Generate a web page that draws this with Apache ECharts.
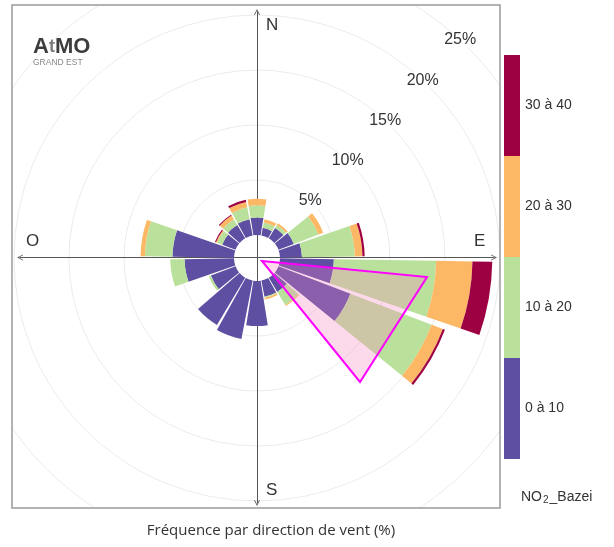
<!DOCTYPE html>
<html>
<head>
<meta charset="utf-8">
<script src="https://cdn.jsdelivr.net/npm/echarts@6/dist/echarts.min.js"></script>
<style>
  html, body { margin: 0; padding: 0; background: #fff; }
  #rose { width: 614px; height: 547px; }
</style>
</head>
<body>
<div id="rose"></div>
<script>
// directions du vent (degrés, 0 = Nord), pas de 20°
var directions = ['0', '20', '40', '60', '80', '100', '120', '140', '160',
                  '180', '200', '220', '240', '260', '280', '300', '320', '340'];

// fréquence (%) par classe de NO2
var no2_0_10  = [1.6, 0.7, 1.1, 1.5, 2.0, 4.9, 7.0, 1.5, 1.5, 4.1, 5.4, 5.0, 2.4, 4.5, 5.6, 1.3, 1.4, 1.5];
var no2_10_20 = [1.1, 0.5, 0.3, 2.4, 4.8, 9.3, 7.9, 1.4, 0.1, 0,   0,   0,   0.2, 1.3, 2.5, 0.5, 0.6, 1.1];
var no2_20_30 = [0.6, 0.3, 0.2, 0.45, 0.7, 3.3, 1.1, 0.1, 0.15, 0,  0,   0,   0,   0,   0.4, 0.1, 0.4, 0.5];
var no2_30_40 = [0,   0,   0,   0,   0.2, 1.8, 0.2, 0,   0,   0,   0,   0,   0,   0,   0,   0.1, 0.1, 0.2];

var classes = ['0 à 10', '10 à 20', '20 à 30', '30 à 40'];
var colors = ['#5E4FA2', '#BAE19B', '#FDB865', '#9E0142'];

// graduations radiales
var ringMax = 30;
var ringStep = 5;

var myChart = echarts.init(document.getElementById('rose'));

function serie(name, values, color) {
    return {
        name: name,
        type: 'bar',
        coordinateSystem: 'polar',
        polarIndex: 0,
        stack: 'rose',
        barCategoryGap: '9%',
        itemStyle: { color: color },
        data: values
    };
}

var font = 'Liberation Sans, Arial, sans-serif';
// flèche ouverte pour les axes cardinaux
var openArrow = 'path://M0,10 L5,0 L10,10 L8.6,10 L5,2.8 L1.4,10 Z';
var ringColor = '#ebebeb';

var option = {
    animation: false,
    color: colors,
    title: [
        {
            text: 'Fréquence par direction de vent (%)',
            left: 266,
            textAlign: 'center',
            top: 518,
            zlevel: 2,
            textStyle: { fontFamily: 'Open Sans', fontSize: 15, fontWeight: 'normal', color: '#333' }
        },
        {
            text: '{a|NO}{b|2}{a|_Bazei}',
            left: 516,
            top: 484,
            zlevel: 2,
            textStyle: {
                fontWeight: 'normal',
                rich: {
                    a: { fontFamily: font, fontSize: 14, fontWeight: 'normal', color: '#333' },
                    b: { fontFamily: font, fontSize: 10, fontWeight: 'normal', color: '#333', padding: [6, 1, 0, 1] }
                }
            }
        }
    ],
    legend: {
        data: classes.slice().reverse(),
        orient: 'vertical',
        left: 504,
        top: 55,
        padding: 0,
        icon: 'rect',
        itemWidth: 16,
        itemHeight: 101,
        itemGap: 0,
        selectedMode: false,
        zlevel: 2,
        textStyle: { fontFamily: font, fontSize: 14, color: '#333' }
    },
    polar: [
        { center: [257, 258], radius: [23, 353] },
        { center: [257, 258], radius: [23, 353] }
    ],
    angleAxis: [
        {
            polarIndex: 0,
            type: 'category',
            data: directions,
            startAngle: 100,
            axisLine: { show: false },
            axisTick: { show: false },
            axisLabel: { show: false },
            splitLine: { show: false }
        },
        {
            // sert uniquement à orienter les étiquettes des cercles
            polarIndex: 1,
            type: 'value',
            startAngle: 47,
            min: 0,
            max: 360,
            show: false
        }
    ],
    radiusAxis: [
        {
            polarIndex: 0,
            min: 0,
            max: ringMax,
            interval: ringStep,
            axisLine: { show: false },
            axisTick: { show: false },
            axisLabel: { show: false },
            splitLine: {
                show: true,
                lineStyle: { color: ['rgba(0,0,0,0)', ringColor, ringColor, ringColor, ringColor, ringColor, ringColor], width: 1 }
            }
        },
        {
            polarIndex: 1,
            min: 0,
            max: ringMax,
            interval: ringStep,
            axisLine: { show: false },
            axisTick: { show: false },
            splitLine: { show: false },
            axisLabel: {
                formatter: '{value}%',
                showMinLabel: false,
                margin: 0,
                align: 'center',
                verticalAlign: 'middle',
                fontFamily: font,
                fontSize: 16,
                color: '#333',
                backgroundColor: '#fff'
            }
        }
    ],
    // axes N-S / O-E
    grid: { left: 20, right: 120, top: 12, bottom: 44, show: false },
    xAxis: {
        type: 'value', min: -1, max: 1,
        axisLine: { show: true, onZero: true, symbol: [openArrow, openArrow], symbolSize: [8, 6], lineStyle: { color: '#555', width: 1 } },
        axisTick: { show: false }, axisLabel: { show: false }, splitLine: { show: false }
    },
    yAxis: {
        type: 'value', min: -1, max: 1,
        axisLine: { show: true, onZero: true, symbol: [openArrow, openArrow], symbolSize: [8, 6], lineStyle: { color: '#555', width: 1 } },
        axisTick: { show: false }, axisLabel: { show: false }, splitLine: { show: false }
    },
    series: [
        serie(classes[0], no2_0_10, colors[0]),
        serie(classes[1], no2_10_20, colors[1]),
        serie(classes[2], no2_20_30, colors[2]),
        serie(classes[3], no2_30_40, colors[3])
    ],
    graphic: [
        // triangle de mise en évidence
        {
            type: 'polygon', z: 100,
            shape: { points: [[262, 261], [427, 277], [360, 382]] },
            style: { fill: 'rgba(245,132,192,0.3)', stroke: '#FF00FF', lineWidth: 2 }
        },
        // points cardinaux
        { type: 'text', x: 266, y: 17, z: 100, style: { text: 'N', font: '17px ' + font, fill: '#333' } },
        { type: 'text', x: 266, y: 482, z: 100, style: { text: 'S', font: '17px ' + font, fill: '#333' } },
        { type: 'text', x: 26, y: 233, z: 100, style: { text: 'O', font: '17px ' + font, fill: '#333' } },
        { type: 'text', x: 474, y: 233, z: 100, style: { text: 'E', font: '17px ' + font, fill: '#333' } },
        // logo
        {
            type: 'text', x: 33, y: 36, z: 100,
            style: {
                text: '{a|A}{b|t}{a|MO}',
                rich: {
                    a: { font: 'bold 22px ' + font, fill: '#3d3d3d' },
                    b: { font: 'bold 18px ' + font, fill: '#7d7d7d' }
                }
            }
        },
        { type: 'text', x: 33, y: 58, z: 100, style: { text: 'GRAND EST', font: '8.5px ' + font, fill: '#888' } },
        // masques hors cadre
        { type: 'rect', zlevel: 1, shape: { x: 0, y: 0, width: 12, height: 547 }, style: { fill: '#fff' } },
        { type: 'rect', zlevel: 1, shape: { x: 0, y: 0, width: 614, height: 5 }, style: { fill: '#fff' } },
        { type: 'rect', zlevel: 1, shape: { x: 500, y: 0, width: 114, height: 547 }, style: { fill: '#fff' } },
        { type: 'rect', zlevel: 1, shape: { x: 0, y: 508, width: 614, height: 39 }, style: { fill: '#fff' } },
        // cadre
        { type: 'rect', zlevel: 1, z: 10, shape: { x: 12, y: 5, width: 488, height: 503 }, style: { fill: 'none', stroke: '#9a9a9a', lineWidth: 1.5 } }
    ]
};

myChart.setOption(option);
</script>
</body>
</html>
